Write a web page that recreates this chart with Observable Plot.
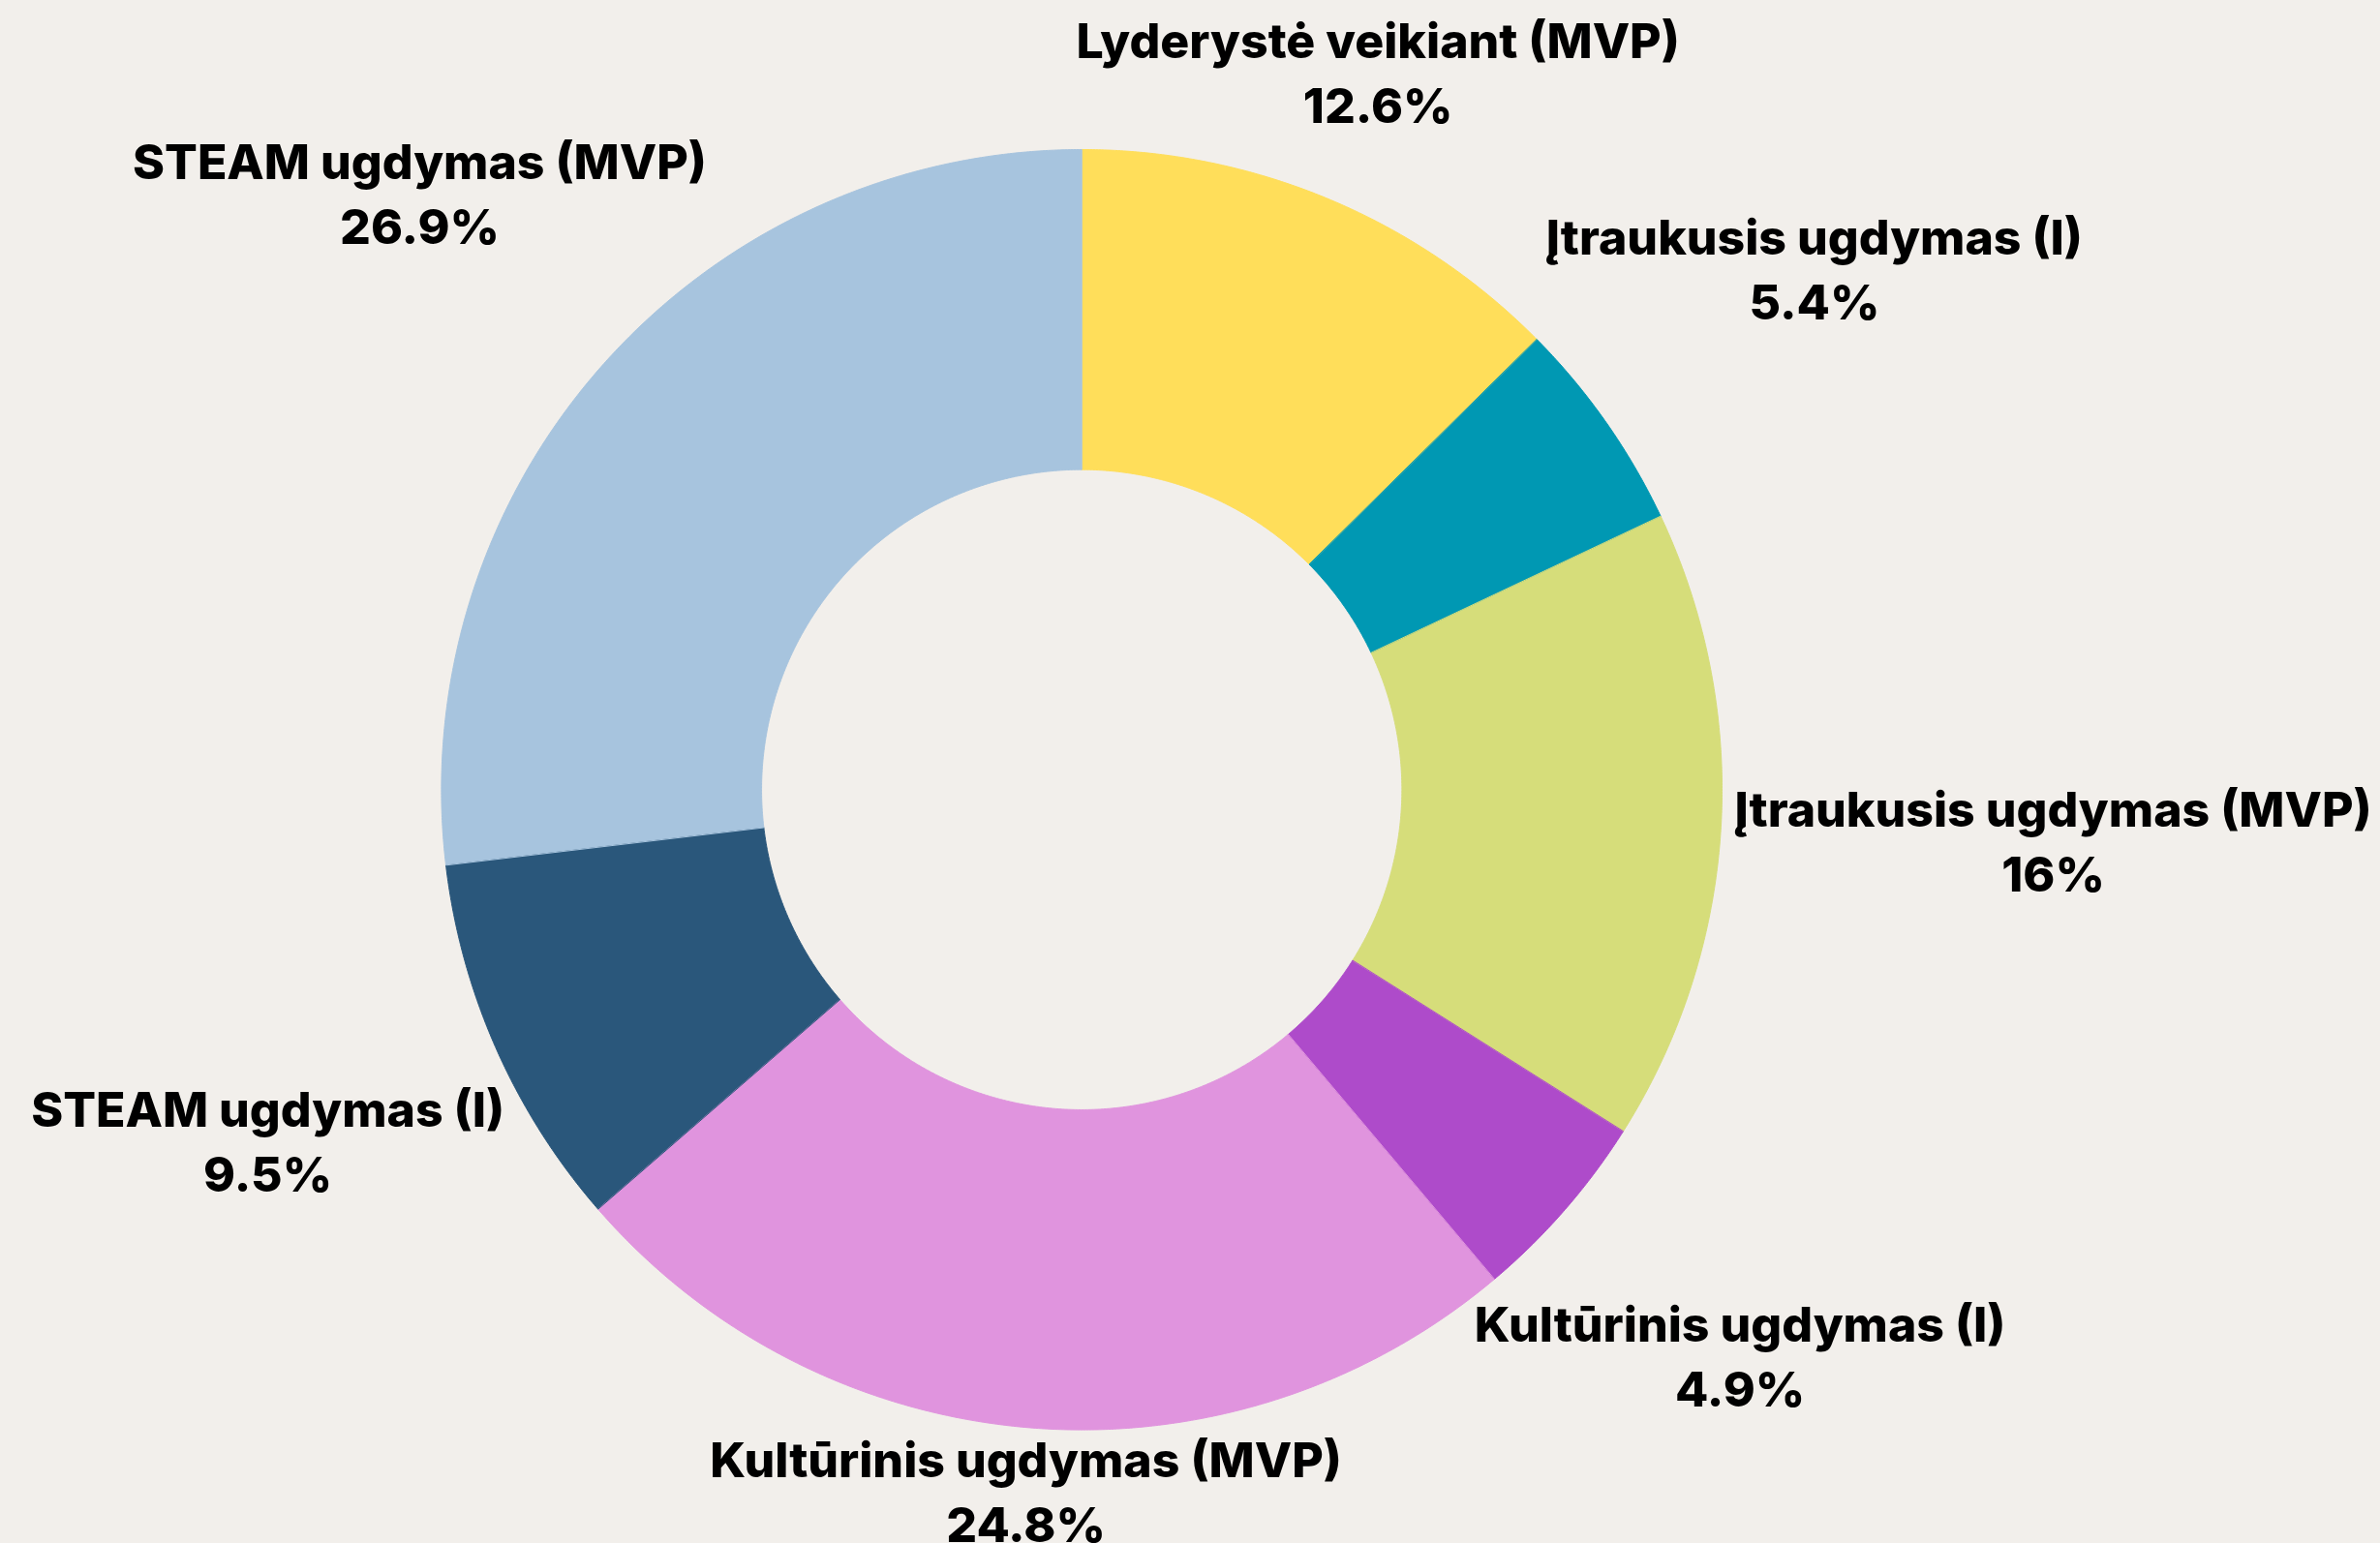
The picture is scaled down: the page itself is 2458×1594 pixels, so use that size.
<!DOCTYPE html>
<html>
<head>
<meta charset="utf-8">
<script src="https://cdn.jsdelivr.net/npm/d3@7"></script>
<script src="https://cdn.jsdelivr.net/npm/@observablehq/plot@0.6"></script>
<style>
  html, body { margin: 0; padding: 0; background: #f2efeb; }
  #chart svg { display: block; }
</style>
</head>
<body>
<div id="chart"></div>
<script>
// ---- data (clockwise from 12 o'clock) ----
const categories = [
  "Lyderystė veikiant (MVP)",
  "Įtraukusis ugdymas (I)",
  "Įtraukusis ugdymas (MVP)",
  "Kultūrinis ugdymas (I)",
  "Kultūrinis ugdymas (MVP)",
  "STEAM ugdymas (I)",
  "STEAM ugdymas (MVP)"
];
const shares = [12.6, 5.4, 16, 4.9, 24.8, 9.5, 26.9];
const sliceColors = ["#ffde5a", "#0098b3", "#d6dd7a", "#ae4bca", "#e094de", "#2a577b", "#a7c4de"];

// ---- layout ----
const W = 2458, H = 1594;
const CX = 1116.7, CY = 815.3, R = 661.3;   // pie centre and outer radius in px
const INNER = 0.5;                          // hole radius (fraction of R)
const LABEL_GAP = 1.0305;                   // nearest edge of label box, fraction of R
const FONT_FAMILY = "Inter";
const FONT_SIZE = 50;
const LINE_HEIGHT = 1.34;
const TEXT_SHIFT = -11;                     // px, optical centring of two-line labels

const total = d3.sum(shares);
let cum = 0;
const slices = categories.map((c, i) => {
  const a0 = cum / total * 2 * Math.PI;
  cum += shares[i];
  const a1 = cum / total * 2 * Math.PI;
  return {label: c, value: shares[i], a0, a1};
});

// polygon outline of each ring segment (radius units, y up)
const ringPoints = [];
for (const s of slices) {
  const n = Math.max(4, Math.ceil((s.a1 - s.a0) / (Math.PI / 720)));
  for (let k = 0; k <= n; k++) {
    const a = s.a0 + (s.a1 - s.a0) * k / n;
    ringPoints.push({label: s.label, x: Math.sin(a), y: Math.cos(a)});
  }
  for (let k = n; k >= 0; k--) {
    const a = s.a0 + (s.a1 - s.a0) * k / n;
    ringPoints.push({label: s.label, x: INNER * Math.sin(a), y: INNER * Math.cos(a)});
  }
}

// label placement: box centred on the mid-angle ray, pushed out until its nearest edge clears the ring
const ctx = document.createElement("canvas").getContext("2d");
ctx.font = `bold ${FONT_SIZE}px ${FONT_FAMILY}`;
const capH = ctx.measureText("H").actualBoundingBoxAscent;
const labels = slices.map(s => {
  const text = `${s.label}\n${s.value}%`;
  const w = d3.max(text.split("\n"), t => {
    const m = ctx.measureText(t);
    return m.actualBoundingBoxLeft + m.actualBoundingBoxRight;
  });
  const hw = w / 2, hh = (FONT_SIZE * LINE_HEIGHT + capH) / 2;
  const am = (s.a0 + s.a1) / 2, ux = Math.sin(am), uy = Math.cos(am);
  const target = LABEL_GAP * R;
  let lo = 0, hi = 4 * R;
  for (let it = 0; it < 60; it++) {
    const t = (lo + hi) / 2;
    const dx = Math.max(0, Math.abs(t * ux) - hw), dy = Math.max(0, Math.abs(t * uy) - hh);
    if (Math.hypot(dx, dy) < target) lo = t; else hi = t;
  }
  const t = (lo + hi) / 2;
  return {text, x: t * ux / R, y: t * uy / R};
});

const chart = Plot.plot({
  width: W,
  height: H,
  margin: 0,
  style: {background: "#f2efeb", fontFamily: FONT_FAMILY},
  x: {domain: [-CX / R, (W - CX) / R], axis: null},
  y: {domain: [-(H - CY) / R, CY / R], axis: null},
  color: {domain: categories, range: sliceColors},
  marks: [
    Plot.line(ringPoints, {
      x: "x", y: "y", z: "label",
      fill: "label", stroke: "label", strokeWidth: 1,
      curve: "linear-closed"
    }),
    Plot.text(labels, {
      x: "x", y: "y", text: "text", dy: TEXT_SHIFT,
      fontSize: FONT_SIZE, fontWeight: 800, fontFamily: FONT_FAMILY,
      lineHeight: LINE_HEIGHT, textAnchor: "middle", lineAnchor: "middle",
      fill: "#000"
    })
  ]
});
document.getElementById("chart").append(chart);
</script>
</body>
</html>
